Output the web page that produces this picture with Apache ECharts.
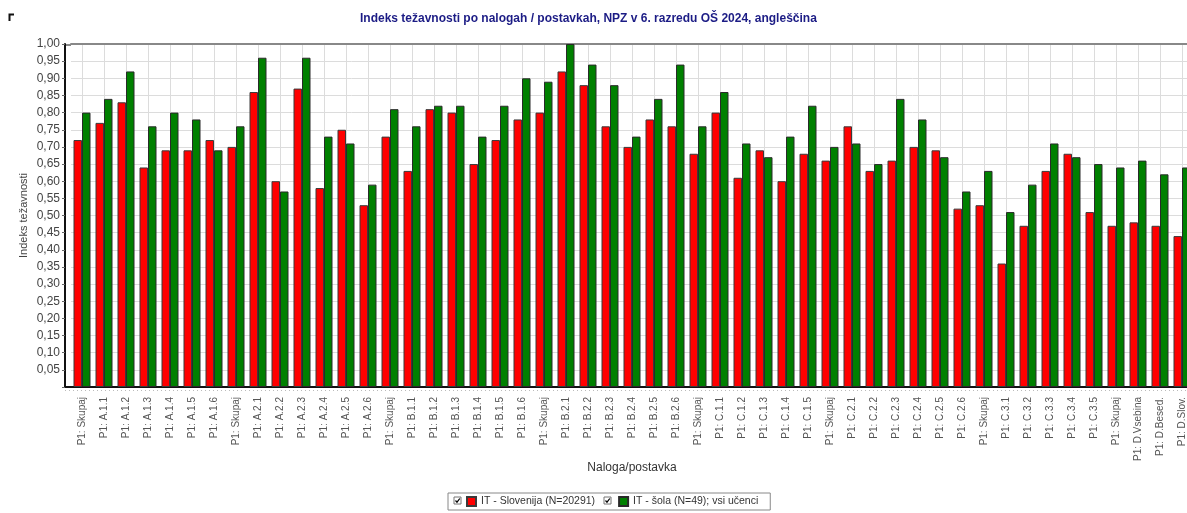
<!DOCTYPE html>
<html>
<head>
<meta charset="utf-8">
<script src="https://cdn.jsdelivr.net/npm/echarts@6/dist/echarts.min.js"></script>
<style>
  html, body { margin: 0; padding: 0; background: #fff; overflow: hidden; }
  #chart { width: 1200px; height: 513px; }
</style>
</head>
<body>
<div id="chart"></div>
<script>
// kategorije (naloge / postavke)
var categories = [
  'P1: Skupaj', 'P1: A.1.1', 'P1: A.1.2', 'P1: A.1.3', 'P1: A.1.4', 'P1: A.1.5', 'P1: A.1.6',
  'P1: Skupaj', 'P1: A.2.1', 'P1: A.2.2', 'P1: A.2.3', 'P1: A.2.4', 'P1: A.2.5', 'P1: A.2.6',
  'P1: Skupaj', 'P1: B.1.1', 'P1: B.1.2', 'P1: B.1.3', 'P1: B.1.4', 'P1: B.1.5', 'P1: B.1.6',
  'P1: Skupaj', 'P1: B.2.1', 'P1: B.2.2', 'P1: B.2.3', 'P1: B.2.4', 'P1: B.2.5', 'P1: B.2.6',
  'P1: Skupaj', 'P1: C.1.1', 'P1: C.1.2', 'P1: C.1.3', 'P1: C.1.4', 'P1: C.1.5',
  'P1: Skupaj', 'P1: C.2.1', 'P1: C.2.2', 'P1: C.2.3', 'P1: C.2.4', 'P1: C.2.5', 'P1: C.2.6',
  'P1: Skupaj', 'P1: C.3.1', 'P1: C.3.2', 'P1: C.3.3', 'P1: C.3.4', 'P1: C.3.5',
  'P1: Skupaj', 'P1: D.Vsebina', 'P1: D.Besed.', 'P1: D.Slov.'
];

// IT - Slovenija
var slovenija = [
  0.72, 0.77, 0.83, 0.64, 0.69, 0.69, 0.72,
  0.70, 0.86, 0.60, 0.87, 0.58, 0.75, 0.53,
  0.73, 0.63, 0.81, 0.80, 0.65, 0.72, 0.78,
  0.80, 0.92, 0.88, 0.76, 0.70, 0.78, 0.76,
  0.68, 0.80, 0.61, 0.69, 0.60, 0.68,
  0.66, 0.76, 0.63, 0.66, 0.70, 0.69, 0.52,
  0.53, 0.36, 0.47, 0.63, 0.68, 0.51,
  0.47, 0.48, 0.47, 0.44
];

// IT - šola
var sola = [
  0.80, 0.84, 0.92, 0.76, 0.80, 0.78, 0.69,
  0.76, 0.96, 0.57, 0.96, 0.73, 0.71, 0.59,
  0.81, 0.76, 0.82, 0.82, 0.73, 0.82, 0.90,
  0.89, 1.00, 0.94, 0.88, 0.73, 0.84, 0.94,
  0.76, 0.86, 0.71, 0.67, 0.73, 0.82,
  0.70, 0.71, 0.65, 0.84, 0.78, 0.67, 0.57,
  0.63, 0.51, 0.59, 0.71, 0.67, 0.65,
  0.64, 0.66, 0.62, 0.64
];

var seriesNames = ['IT - Slovenija (N=20291)', 'IT - šola (N=49); vsi učenci'];

var font = '"Liberation Sans", Arial, sans-serif';
var myChart = echarts.init(document.getElementById('chart'));

// kljukica v legendi
function checkbox(x, y) {
  return {
    type: 'group', x: x, y: y, silent: true,
    children: [
      { type: 'rect', shape: { x: 0, y: 0, width: 7, height: 7 }, style: { fill: '#fff', stroke: '#777', lineWidth: 1 } },
      { type: 'polyline', shape: { points: [[1.5, 3.5], [3, 5.2], [5.8, 1.5]] }, style: { stroke: '#000', lineWidth: 1.2, fill: null } }
    ]
  };
}

var option = {
  backgroundColor: '#fff',
  animation: false,
  title: {
    text: 'Indeks težavnosti po nalogah / postavkah, NPZ v 6. razredu OŠ 2024, angleščina',
    left: 355,
    top: 8,
    textStyle: { fontFamily: font, fontSize: 12, fontWeight: 'bold', color: '#1c1c85' }
  },
  legend: {
    left: 448,
    top: 493,
    padding: [3, 12, 3, 18],
    itemWidth: 9,
    itemHeight: 9,
    itemGap: 23,
    icon: 'rect',
    borderColor: '#888',
    borderWidth: 1,
    borderRadius: 0,
    textStyle: { fontFamily: font, fontSize: 10.5, color: '#333' },
    data: seriesNames
  },
  grid: {
    left: 71,
    right: 7,
    top: 44,
    bottom: 126,
    containLabel: false
  },
  xAxis: [{
    type: 'category',
    data: categories,
    boundaryGap: true,
    name: 'Naloga/postavka',
    nameLocation: 'middle',
    nameGap: 75,
    nameMoveOverlap: false,
    nameTextStyle: { fontFamily: font, fontSize: 12, color: '#333' },
    axisLine: { lineStyle: { color: '#111', width: 2 } },
    axisTick: { show: false },
    axisLabel: {
      interval: 0,
      rotate: 90,
      margin: 10,
      fontFamily: font,
      fontSize: 10,
      color: '#555'
    },
    splitLine: { show: true, alignWithLabel: true, lineStyle: { color: '#dcdcdc', width: 1 } }
  }, {
    type: 'category',
    position: 'top',
    data: categories,
    axisLine: { lineStyle: { color: '#888', width: 2 } },
    axisTick: { show: false },
    axisLabel: { show: false }
  }],
  yAxis: {
    type: 'value',
    min: 0,
    max: 1,
    interval: 0.05,
    offset: 6,
    name: 'Indeks težavnosti',
    nameLocation: 'middle',
    nameGap: 36,
    nameMoveOverlap: false,
    nameTextStyle: { fontFamily: font, fontSize: 11, color: '#444' },
    axisLine: { show: true, lineStyle: { color: '#111', width: 2 } },
    axisTick: { show: true, length: 3, lineStyle: { color: '#666' } },
    axisLabel: {
      margin: 5,
      fontFamily: font,
      fontSize: 12,
      color: '#444',
      formatter: function (v) {
        if (v === 0) return '';
        return v.toFixed(2).replace('.', ',');
      }
    },
    splitLine: { show: true, lineStyle: { color: '#dcdcdc', width: 1 } }
  },
  series: [{
    name: seriesNames[0],
    type: 'bar',
    data: slovenija,
    barWidth: 8.5,
    barGap: '0%',
    itemStyle: { color: '#ff0000', borderColor: '#3a3a3a', borderWidth: 1 }
  }, {
    name: seriesNames[1],
    type: 'bar',
    data: sola,
    barWidth: 8.5,
    barGap: '0%',
    itemStyle: { color: '#008000', borderColor: '#2a2a2a', borderWidth: 1 }
  }],
  graphic: [
    // ostanek obrezane slike levo zgoraj
    { type: 'polyline', shape: { points: [[9.5, 21], [9.5, 14.5], [14, 14.5]] }, style: { stroke: '#111', lineWidth: 2, fill: null } },
    // drobne oznake pod osjo x
    { type: 'line', shape: { x1: 65, y1: 390.5, x2: 1193, y2: 390.5 }, style: { stroke: '#bbb', lineWidth: 1, lineDash: [1, 3] } },
    // levi del mreže med osjo y in prvo kategorijo
    { type: 'line', shape: { x1: 65, y1: 45, x2: 71, y2: 45 }, style: { stroke: '#888', lineWidth: 2 } },
    { type: 'line', shape: { x1: 65, y1: 387, x2: 71, y2: 387 }, style: { stroke: '#111', lineWidth: 2 } },
    checkbox(454, 497),
    checkbox(604, 497)
  ]
};

myChart.setOption(option);
</script>
</body>
</html>
